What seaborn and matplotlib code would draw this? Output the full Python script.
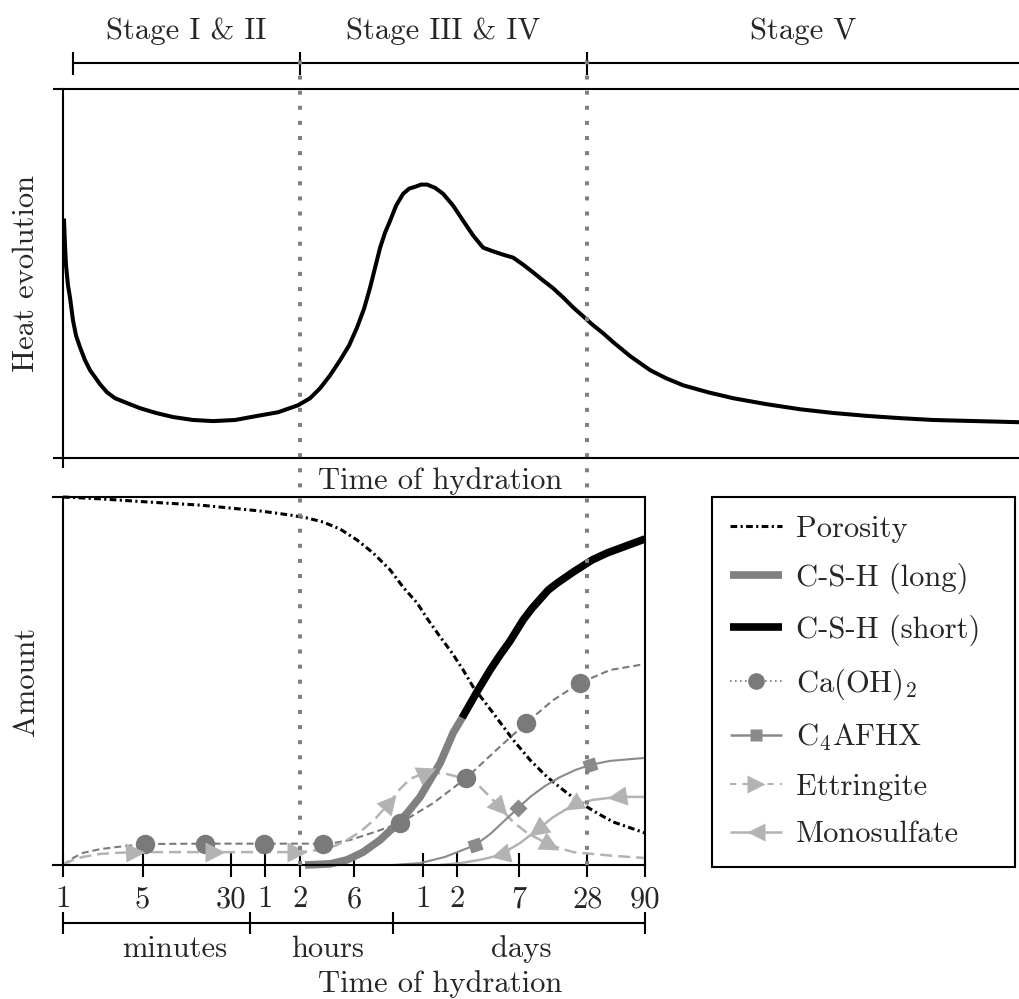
import numpy as np
import matplotlib
matplotlib.use("Agg")
import matplotlib.pyplot as plt
import seaborn as sns
from matplotlib.lines import Line2D
from matplotlib.markers import MarkerStyle
from matplotlib.transforms import Affine2D, blended_transform_factory
from matplotlib.ticker import NullLocator

# ---------------- data (time in minutes, log axis) ----------------
heat_time = [1.020, 1.041, 1.063, 1.106, 1.152, 1.224, 1.301, 1.411, 1.561, 1.727,
             2.114, 2.436, 2.864, 3.506, 4.750, 6.566, 9.262, 13.88, 20.80, 32.46,
             50.67, 77.50, 116.2, 148.1, 181.3, 221.9, 271.7, 326.0, 383.2, 441.6,
             498.6, 551.6, 610.4, 675.3, 747.2, 843.9, 972.1, 1098, 1240, 1399,
             1580, 1858, 2184, 2673, 3273, 4006, 4905, 6005, 7352, 9002,
             11020, 13490, 16520, 20220, 24760, 30310, 37110, 44520, 55610, 68080,
             96040, 143900, 199000, 280700, 465400, 771900, 1.505e6, 2.995e6, 5.837e6, 1.162e7,
             2.265e7, 4.416e7, 1.054e8, 2.5e8]
heat_rate = [0.649, 0.576, 0.522, 0.468, 0.435, 0.373, 0.332, 0.300, 0.265, 0.238,
             0.200, 0.178, 0.162, 0.151, 0.135, 0.122, 0.111, 0.103, 0.100, 0.103,
             0.114, 0.124, 0.143, 0.162, 0.189, 0.224, 0.265, 0.305, 0.354, 0.405,
             0.462, 0.516, 0.570, 0.611, 0.643, 0.684, 0.716, 0.730, 0.735, 0.741,
             0.741, 0.732, 0.716, 0.684, 0.643, 0.603, 0.570, 0.560, 0.551, 0.543,
             0.524, 0.503, 0.481, 0.460, 0.435, 0.408, 0.384, 0.362, 0.338, 0.314,
             0.276, 0.238, 0.216, 0.197, 0.178, 0.162, 0.146, 0.132, 0.122, 0.114,
             0.108, 0.103, 0.100, 0.097]

poro_time = [1, 2.114, 5.814, 15.99, 29.35, 53.85, 98.79, 139.4, 192.6, 271.7,
             383.2, 529.9, 747.2, 972.1, 1290, 1612, 2056, 2620, 3273, 4006,
             6005, 9002, 12700, 17910, 24760, 34920, 49260, 68080, 96040, 129600]
poro_amount = [1.000, 0.995, 0.986, 0.978, 0.970, 0.962, 0.951, 0.943, 0.932, 0.913,
               0.883, 0.848, 0.802, 0.755, 0.712, 0.666, 0.620, 0.576, 0.530, 0.484,
               0.413, 0.340, 0.285, 0.239, 0.204, 0.169, 0.141, 0.117, 0.101, 0.087]

csh_long_time = [133.8, 221.9, 313.1, 432.8, 610.4, 794.0, 1054, 1371, 1679, 2056, 2367, 2673, 3209]
csh_long_amount = [0.0, 0.003, 0.014, 0.035, 0.068, 0.101, 0.141, 0.185, 0.231, 0.277, 0.321, 0.359, 0.400]
csh_short_time = [3209, 4434, 5652, 6921, 8472, 11020, 13220, 18280, 21930, 30310, 44520, 60300, 83350, 129600]
csh_short_amount = [0.400, 0.476, 0.530, 0.571, 0.609, 0.666, 0.698, 0.747, 0.766, 0.796, 0.829, 0.848, 0.864, 0.886]

ca_time = [1, 1.224, 1.499, 2.114, 2.982, 5.26, 16.0, 222, 333, 552,
           915, 1784, 3477, 6380, 11710, 20220, 34920, 64100, 129600]
ca_amount = [0.0, 0.019, 0.033, 0.043, 0.049, 0.057, 0.058, 0.058, 0.068, 0.090,
             0.114, 0.168, 0.236, 0.312, 0.386, 0.448, 0.495, 0.530, 0.546]
ca_mark_time = [5.26, 17.7, 58.4, 192.7, 915, 3477, 11710, 34920]
ca_mark_amount = [0.057, 0.058, 0.058, 0.058, 0.114, 0.236, 0.386, 0.495]

c4_time = [794, 1371, 2274, 3081, 4173, 5652, 7656, 9959, 12700, 17200, 23300, 31560, 42750, 64100, 129600]
c4_amount = [0.0, 0.005, 0.022, 0.038, 0.054, 0.084, 0.122, 0.155, 0.185, 0.215, 0.239, 0.258, 0.272, 0.283, 0.291]
c4_mark_time = [4173, 9959, 42750]
c4_mark_amount = [0.054, 0.155, 0.272]

ett_time = [1, 1.224, 1.499, 2.114, 2.982, 4.293, 120.9, 181.3, 245.6, 313.1,
            407.3, 551.6, 747.2, 914.9, 1120, 1580, 2367, 3477, 4617, 5652,
            6921, 9002, 11950, 19030, 30310, 68080, 129600]
ett_amount = [0.0, 0.014, 0.022, 0.030, 0.033, 0.035, 0.035, 0.041, 0.052, 0.068,
              0.090, 0.125, 0.171, 0.207, 0.234, 0.253, 0.247, 0.234, 0.212, 0.185,
              0.155, 0.117, 0.087, 0.054, 0.035, 0.025, 0.019]
ett_mark_time = [4.293, 21.7, 113.8, 747.2, 1580, 6921, 19030]
ett_mark_amount = [0.035, 0.035, 0.035, 0.171, 0.253, 0.155, 0.054]

mono_time = [2056, 3081, 4617, 6921, 10370, 14630, 20220, 30310, 45430, 73850, 129600]
mono_amount = [0.0, 0.005, 0.014, 0.027, 0.060, 0.095, 0.130, 0.163, 0.177, 0.185, 0.185]
mono_mark_time = [6921, 14630, 30310, 73850]
mono_mark_amount = [0.027, 0.095, 0.163, 0.185]

tick_minutes = [1, 5, 30, 60, 120, 360, 1440, 2880, 10080, 40320, 129600]
tick_labels = ['1', '5', '30', '1', '2', '6', '1', '2', '7', '28', '90']
unit_bounds = [1, 44, 794, 129600]
unit_names = ['minutes', 'hours', 'days']
stage_bounds = [1.22, 120, 40320, 2.5e8]
stage_names = ['Stage I & II', 'Stage III & IV', 'Stage V']
marker_lines = [120, 40320]

series_names = ['Porosity', 'C-S-H (long)', 'C-S-H (short)', 'Ca(OH)$_2$',
                'C$_4$AFHX', 'Ettringite', 'Monosulfate']

# ---------------- style ----------------
sns.set_theme(style='white')
plt.rcParams['font.family'] = ['cmr10']
plt.rcParams['mathtext.fontset'] = 'cm'
plt.rcParams['axes.unicode_minus'] = False
plt.rcParams['axes.formatter.use_mathtext'] = True
plt.rcParams['lines.solid_capstyle'] = 'butt'
plt.rcParams['lines.dash_capstyle'] = 'butt'
plt.rcParams['lines.solid_joinstyle'] = 'round'

FS = 22
W, H = 1019, 999
K = 'black'
G_DARK = '#7a7a7a'
G_MID = '#808080'
G_C4 = '#8a8a8a'
G_LIGHT = '#b3b3b3'
SPW = 1.5

fig = plt.figure(figsize=(W / 100, H / 100), dpi=100)
fig.patch.set_facecolor('white')


def fx(px):
    return px / W


def fy(py):
    return 1 - py / H


ax_top = fig.add_axes([fx(63), fy(458), (1019 - 63) / W, (458 - 89) / H])
ax_bot = fig.add_axes([fx(63), fy(865), (645 - 63) / W, (865 - 497) / H])

for ax in (ax_top, ax_bot):
    ax.set_facecolor('none')
    ax.set_xscale('log')
    for s in ax.spines.values():
        s.set_color(K)
        s.set_linewidth(SPW)
ax_top.spines['right'].set_visible(False)

# ---------------- top panel ----------------
sns.lineplot(x=heat_time, y=heat_rate, ax=ax_top, color=K, linewidth=2.9,
             estimator=None, sort=False, clip_on=False)
ax_top.set_xlim(1, 2.5e8)
ax_top.set_ylim(0, 1)
ax_top.set_xticks([1])
ax_top.set_xticklabels([''])
ax_top.set_yticks([0, 1])
ax_top.set_yticklabels(['', ''])
ax_top.xaxis.set_minor_locator(NullLocator())
ax_top.tick_params(axis='both', which='major', direction='out', length=7.5,
                   width=SPW, color=K, bottom=True, left=True, top=False, right=False)
ax_top.set_xlabel('')
ax_top.set_ylabel('')

trt = blended_transform_factory(ax_top.transData, ax_top.transAxes)
ytop = lambda py: (458 - py) / (458 - 89)
ax_top.plot([stage_bounds[0], stage_bounds[-1]], [ytop(63), ytop(63)], color=K,
            lw=SPW, transform=trt, clip_on=False)
for b in stage_bounds[:-1]:
    ax_top.plot([b, b], [ytop(52), ytop(75)], color=K, lw=SPW, transform=trt, clip_on=False)
for i, name in enumerate(stage_names):
    xm = np.sqrt(stage_bounds[i] * stage_bounds[i + 1])
    ax_top.text(xm, ytop(39), name, transform=trt, ha='center', va='baseline', fontsize=FS)

# ---------------- bottom panel ----------------
sns.lineplot(x=poro_time, y=poro_amount, ax=ax_bot, color=K, linewidth=2.2,
             linestyle=(0, (2.2, 1.1, 0.7, 1.1)), estimator=None, sort=False, clip_on=False)
sns.lineplot(x=ca_time, y=ca_amount, ax=ax_bot, color=G_DARK, linewidth=1.5,
             linestyle=(0, (3.4, 1.9)), estimator=None, sort=False, clip_on=False)
sns.lineplot(x=ett_time, y=ett_amount, ax=ax_bot, color=G_LIGHT, linewidth=1.8,
             linestyle=(0, (4.8, 2.4)), estimator=None, sort=False, clip_on=False)
sns.lineplot(x=mono_time, y=mono_amount, ax=ax_bot, color=G_LIGHT, linewidth=1.8,
             estimator=None, sort=False, clip_on=False)
sns.lineplot(x=c4_time, y=c4_amount, ax=ax_bot, color=G_C4, linewidth=1.5,
             estimator=None, sort=False, clip_on=False)
sns.lineplot(x=csh_long_time, y=csh_long_amount, ax=ax_bot, color=G_MID, linewidth=5.5,
             estimator=None, sort=False, clip_on=False)
sns.lineplot(x=csh_short_time, y=csh_short_amount, ax=ax_bot, color=K, linewidth=5.5,
             estimator=None, sort=False, clip_on=False)

ax_bot.set_xlim(1, 129600)
ax_bot.set_ylim(0, 1)
ax_bot.set_xlabel('')
ax_bot.set_ylabel('')


def path_angle(ax, xs, ys, xm, ym):
    pts = ax.transData.transform(np.column_stack([xs, ys]))
    pm = ax.transData.transform([[xm, ym]])[0]
    i = int(np.searchsorted(pts[:, 0], pm[0]))
    i = min(max(i, 1), len(pts) - 1)
    d = pts[i] - pts[i - 1]
    return np.degrees(np.arctan2(d[1], d[0]))


def rotated_markers(ax, xs, ys, mxs, mys, marker, ms, color):
    for xm, ym in zip(mxs, mys):
        ang = path_angle(ax, xs, ys, xm, ym)
        m = MarkerStyle(marker, transform=Affine2D().rotate_deg(ang))
        ax.plot([xm], [ym], linestyle='none', marker=m, ms=ms, mfc=color, mec='none',
                clip_on=False, zorder=4)


ax_bot.plot(ca_mark_time, ca_mark_amount, linestyle='none', marker='o', ms=14,
            mfc=G_DARK, mec='none', clip_on=False, zorder=4)
rotated_markers(ax_bot, ett_time, ett_amount, ett_mark_time, ett_mark_amount, '>', 14, G_LIGHT)
rotated_markers(ax_bot, mono_time, mono_amount, mono_mark_time, mono_mark_amount, '<', 14, G_LIGHT)
rotated_markers(ax_bot, c4_time, c4_amount, c4_mark_time, c4_mark_amount, 's', 9, G_C4)

ax_bot.set_xticks(tick_minutes)
ax_bot.set_xticklabels(tick_labels, fontsize=FS)
ax_bot.xaxis.set_minor_locator(NullLocator())
ax_bot.tick_params(axis='x', which='major', direction='inout', length=17, width=SPW,
                   color=K, pad=6.5, bottom=True, top=False)
ax_bot.set_yticks([0, 1])
ax_bot.set_yticklabels(['', ''])
ax_bot.tick_params(axis='y', which='major', direction='out', length=8, width=SPW,
                   color=K, left=True, right=False)

# dotted stage separators spanning both panels
for t in marker_lines:
    ax_bot.axvline(t, ymin=0, ymax=(865 - 52) / (865 - 497), color=G_MID, lw=2.9,
                   linestyle=(0, (1, 2.75)), clip_on=False, zorder=5)

trb = blended_transform_factory(ax_bot.transData, ax_bot.transAxes)
ybot = lambda py: (865 - py) / (865 - 497)
ax_bot.plot([unit_bounds[0], unit_bounds[-1]], [ybot(923), ybot(923)], color=K, lw=SPW,
            transform=trb, clip_on=False)
for b in unit_bounds:
    ax_bot.plot([b, b], [ybot(912), ybot(934)], color=K, lw=SPW, transform=trb, clip_on=False)
unit_label_pos = [9.6, 209, 10600]
for xm, name in zip(unit_label_pos, unit_names):
    ax_bot.text(xm, ybot(957), name, transform=trb, ha='center', va='baseline', fontsize=FS)

# ---------------- labels ----------------
fig.text(fx(440), fy(489), 'Time of hydration', ha='center', va='baseline', fontsize=FS)
fig.text(fx(440), fy(992), 'Time of hydration', ha='center', va='baseline', fontsize=FS)
fig.text(fx(34), fy(273), 'Heat evolution', rotation=90, rotation_mode='anchor',
         ha='center', va='baseline', fontsize=FS)
fig.text(fx(34), fy(681), 'Amount', rotation=90, rotation_mode='anchor',
         ha='center', va='baseline', fontsize=FS)

# ---------------- legend ----------------
handles = [
    Line2D([], [], color=K, lw=2.2, linestyle=(0, (2.2, 1.1, 0.7, 1.1))),
    Line2D([], [], color=G_MID, lw=5.5),
    Line2D([], [], color=K, lw=5.5),
    Line2D([], [], color=G_DARK, lw=1.2, linestyle=(0, (1, 2)), marker='o', ms=12,
           mfc=G_DARK, mec='none'),
    Line2D([], [], color=G_C4, lw=1.8, marker='s', ms=9, mfc=G_C4, mec='none'),
    Line2D([], [], color=G_LIGHT, lw=1.5, linestyle=(0, (3, 3)), marker='>', ms=13,
           mfc=G_LIGHT, mec='none'),
    Line2D([], [], color=G_LIGHT, lw=1.8, marker='<', ms=13, mfc=G_LIGHT, mec='none'),
]
leg = fig.legend(handles, series_names, loc='upper left',
                 bbox_to_anchor=(fx(712), fy(865), (1015 - 712) / W, (865 - 497) / H),
                 mode='expand', borderaxespad=0, frameon=True, fancybox=False,
                 framealpha=1, edgecolor=K, fontsize=FS, handlelength=1.7,
                 handletextpad=0.45, borderpad=0.6, labelspacing=0.66, numpoints=1)
leg.get_frame().set_linewidth(SPW)

fig.savefig('out.png', dpi=100, facecolor='white')
